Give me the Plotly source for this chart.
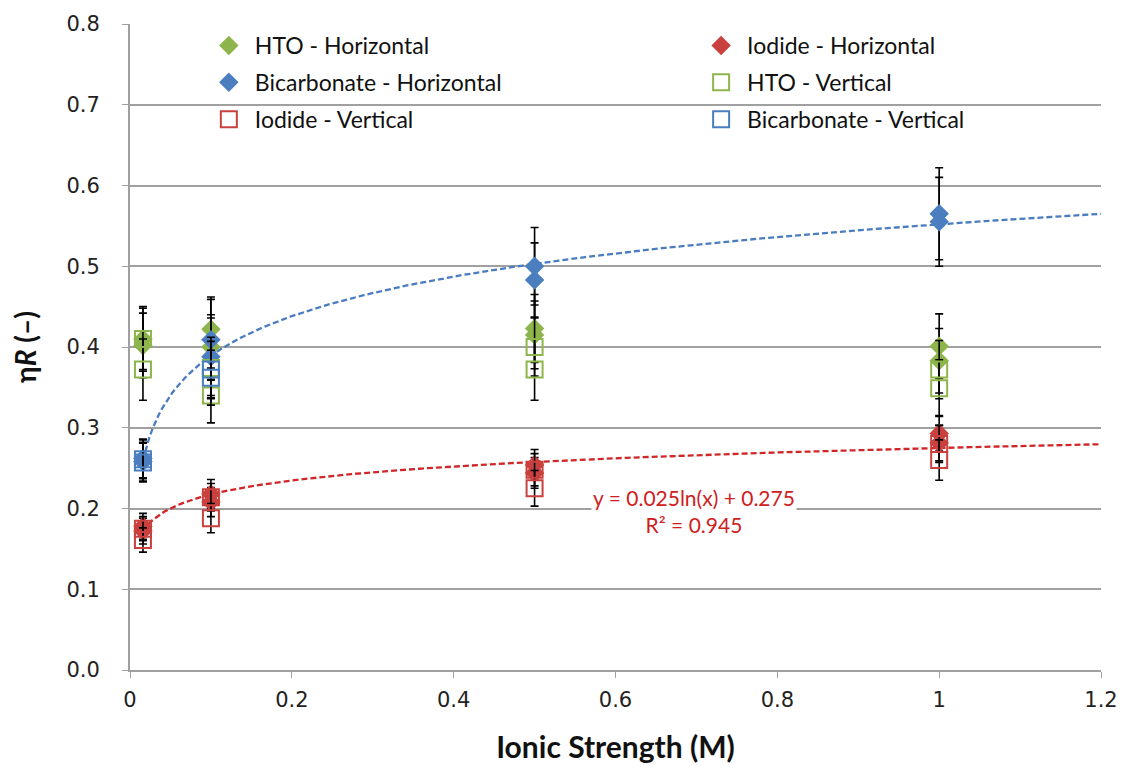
import plotly.graph_objects as go
import numpy as np

# ---------------- data ----------------
x_pts = [0.016, 0.016, 0.1, 0.1, 0.5, 0.5, 1.0, 1.0]

hto_h_y = [0.410, 0.402, 0.422, 0.400, 0.423, 0.415, 0.401, 0.383]
hto_h_err = [0.040, 0.040, 0.040, 0.040, 0.042, 0.042, 0.040, 0.040]

bic_h_y = [0.262, 0.258, 0.409, 0.388, 0.500, 0.483, 0.565, 0.555]
bic_h_err = [0.024, 0.024, 0.050, 0.048, 0.048, 0.046, 0.057, 0.055]

iod_h_y = [0.178, 0.172, 0.218, 0.208, 0.254, 0.244, 0.293, 0.281]
iod_h_err = [0.016, 0.016, 0.018, 0.018, 0.019, 0.019, 0.022, 0.022]

hto_v_y = [0.410, 0.372, 0.374, 0.340, 0.400, 0.372, 0.372, 0.349]
hto_v_err = [0.038, 0.038, 0.038, 0.034, 0.036, 0.038, 0.036, 0.035]

iod_v_y = [0.175, 0.161, 0.214, 0.188, 0.248, 0.225, 0.280, 0.260]
iod_v_err = [0.015, 0.015, 0.017, 0.018, 0.020, 0.022, 0.023, 0.025]

x_bic_v = [0.016, 0.016, 0.1, 0.1]
bic_v_y = [0.261, 0.257, 0.372, 0.362]
bic_v_err = [0.024, 0.024, 0.035, 0.034]

# trendlines y = a ln(x) + b
bic_fit = (0.0707, 0.552)
iod_fit = (0.025, 0.275)
fit_x_start, fit_x_end = 0.016, 1.2

GREEN = "#8DB54B"
BLUE = "#4A7EBF"
RED = "#C9413E"
BLUE_LINE = "#4A7CC0"
RED_LINE = "#D02628"

fig = go.Figure()

def err(e):
    return dict(type="data", array=e, visible=True, color="black",
                thickness=1.6, width=4)

# trendlines (drawn first, not in legend)
xf = np.linspace(fit_x_start, fit_x_end, 300)
for (a, b), col in [(bic_fit, BLUE_LINE), (iod_fit, RED_LINE)]:
    fig.add_trace(go.Scatter(x=xf, y=a * np.log(xf) + b, mode="lines",
                             line=dict(color=col, width=2.3, dash="6px,3px"),
                             showlegend=False, hoverinfo="skip"))

series = [
    ("HTO - Horizontal", x_pts, hto_h_y, hto_h_err, "diamond", GREEN, "legend"),
    ("Iodide - Horizontal", x_pts, iod_h_y, iod_h_err, "diamond", RED, "legend2"),
    ("Bicarbonate - Horizontal", x_pts, bic_h_y, bic_h_err, "diamond", BLUE, "legend"),
    ("HTO - Vertical", x_pts, hto_v_y, hto_v_err, "square-open", GREEN, "legend2"),
    ("Iodide - Vertical", x_pts, iod_v_y, iod_v_err, "square-open", RED, "legend"),
    ("Bicarbonate - Vertical", x_bic_v, bic_v_y, bic_v_err, "square-open", BLUE, "legend2"),
]

for name, xs, ys, es, sym, col, leg in series:
    if sym == "diamond":
        marker = dict(symbol="diamond", size=15, color=col)
    else:
        marker = dict(symbol="square-open", size=16, color=col,
                      line=dict(color=col, width=2))
    fig.add_trace(go.Scatter(x=xs, y=ys, mode="markers", name=name,
                             marker=marker, error_y=err(es), legend=leg,
                             legendgroup=name))

fig.add_annotation(x=0.6, y=0.2, xref="x", yref="y",
                   text="y = 0.025ln(x) + 0.275<br>R² = 0.945",
                   showarrow=False, align="center",
                   font=dict(family="Lato, Open Sans, sans-serif", size=21, color="#D0201E"),
                   bgcolor="white", xanchor="center", yanchor="middle",
                   xshift=78, yshift=-2)

grid = "#A0A0A0"
leg_font = dict(family="Lato, Open Sans, sans-serif", size=23, color="#111")
common_leg = dict(orientation="v", xanchor="left", yanchor="top", font=leg_font,
                  bgcolor="rgba(0,0,0,0)", tracegroupgap=4, itemwidth=42)
fig.update_layout(
    width=1123, height=767,
    margin=dict(l=130, r=22, t=24, b=97),
    paper_bgcolor="white", plot_bgcolor="white",
    font=dict(family="DejaVu Sans, Verdana, sans-serif", size=21, color="#222"),
    showlegend=True,
    legend=dict(x=0.075, y=1.0, **common_leg),
    legend2=dict(x=0.582, y=1.0, **common_leg),
    xaxis=dict(range=[0, 1.2], tickvals=[0, 0.2, 0.4, 0.6, 0.8, 1.0, 1.2],
               ticktext=["0", "0.2", "0.4", "0.6", "0.8", "1", "1.2"],
               showgrid=False, zeroline=False, showline=True, linecolor=grid,
               linewidth=2, ticks="outside", ticklen=6, tickcolor=grid,
               ticklabelstandoff=4, automargin=False,
               title=dict(text="<b>Ionic Strength (M)</b>",
                          font=dict(family="Lato, Open Sans, sans-serif", size=30, color="#111"),
                          standoff=26)),
    yaxis=dict(range=[0, 0.8], tickvals=[0, 0.1, 0.2, 0.3, 0.4, 0.5, 0.6, 0.7, 0.8],
               tickformat=".1f", showgrid=True, gridcolor=grid, gridwidth=1.5,
               zeroline=False, showline=True, linecolor=grid, linewidth=2,
               ticks="outside", ticklen=6, tickcolor=grid,
               ticklabelstandoff=18,
               title=dict(text="<b>η<i>R</i> (–)</b>",
                          font=dict(family="Lato, Open Sans, sans-serif", size=28, color="#111"),
                          standoff=22)),
)

fig.write_html("out.html")
